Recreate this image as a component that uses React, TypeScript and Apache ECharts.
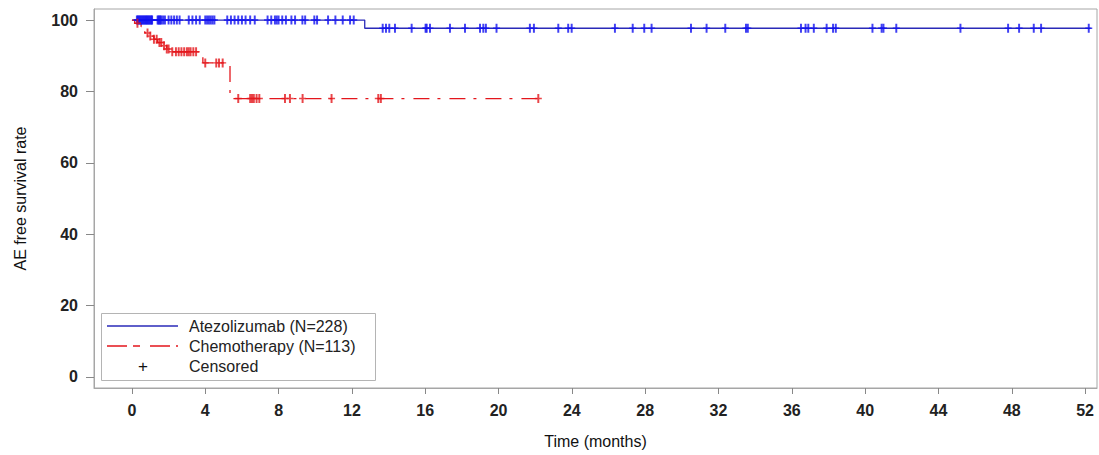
import React, { useEffect, useRef } from "react";
import * as echarts from "echarts";

// Kaplan-Meier step curves (time in months, survival in %)
const atezoTimes = [0, 12.7, 52.3];
const atezoSurv = [100, 97.7, 97.7];
const chemoTimes = [0, 0.15, 0.5, 0.6, 0.7, 0.95, 1.2, 1.4, 1.65, 1.9, 2.15, 3.87, 5.35, 22.3];
const chemoSurv = [100, 99.1, 98.2, 97.3, 96.4, 95.5, 94.6, 93.7, 92.8, 91.9, 91.1, 88.0, 78.0, 78.0];

// Censoring times
const atezoCensor = [
  0.27, 0.32, 0.37, 0.42, 0.47, 0.52, 0.57, 0.62, 0.67, 0.72, 0.77, 0.82, 0.87, 0.92, 0.97, 1.02, 1.07, 1.1,
  1.4, 1.45, 1.5, 1.55, 1.6, 1.7, 1.8,
  2.0, 2.15, 2.3, 2.45, 2.6,
  3.1, 3.3, 3.5, 3.7,
  4.0, 4.1, 4.2, 4.3, 4.4, 4.5,
  5.2, 5.4, 5.6, 5.8, 6.0, 6.2, 6.45, 6.7,
  7.4, 7.6, 7.8, 7.9, 8.0, 8.2, 8.4, 8.7, 8.9,
  9.3, 9.45, 9.95, 10.1, 10.7, 11.1, 11.5, 11.9, 12.1,
  13.68, 13.86, 14.04, 14.35, 15.26, 16.02, 16.08, 16.26, 17.35, 18.17, 18.99, 19.17, 19.31, 19.89,
  21.71, 21.93, 23.26, 23.8, 23.99, 26.35, 27.32, 27.95, 28.35, 30.5, 31.35, 32.37,
  33.5, 33.6, 36.5, 36.75, 36.9, 37.2, 37.9, 38.25, 38.4, 40.4, 40.9, 41.0, 41.7, 45.2,
  47.8, 48.4, 49.2, 49.6, 52.2,
];
const chemoCensor = [
  0.3, 0.85, 1.0, 1.2, 1.35, 1.5, 1.6, 1.75, 1.9, 2.0, 2.2,
  2.4, 2.55, 2.7, 2.85, 3.0, 3.1, 3.2, 3.35, 3.5,
  4.0, 4.6, 4.75, 4.95,
  5.8, 6.45, 6.55, 6.65, 6.8, 6.95, 8.35, 8.62, 9.31, 10.89, 13.44, 13.58, 22.17,
];

const xTicks = [0, 4, 8, 12, 16, 20, 24, 28, 32, 36, 40, 44, 48, 52];
const yTicks = [0, 20, 40, 60, 80, 100];

const seriesNames = ["Atezolizumab (N=228)", "Chemotherapy (N=113)", "Censored"];

function survAt(times: number[], surv: number[], t: number) {
  let v = surv[0];
  for (let i = 0; i < times.length; i++) {
    if (times[i] <= t) v = surv[i];
  }
  return v;
}

const FONT = "'Liberation Sans', Arial, sans-serif";
const BLUE_LINE = "#2a2ab8";
const BLUE_MARK = "#1010f0";
const RED = "#e3161c";
const PLUS = "path://M3.6,0H6.4V4.2H10V5.8H6.4V10H3.6V5.8H0V4.2H3.6Z";

export default function App() {
  const ref = useRef<HTMLDivElement>(null);
  useEffect(() => {
    if (!ref.current) return;
    const chart = echarts.init(ref.current, null, { renderer: "svg" });
    const option: any = {
      animation: false,
      backgroundColor: "#ffffff",
      grid: {
        left: 94,
        right: 2,
        top: 9,
        bottom: 67,
        show: true,
        borderColor: "#a6a6a6",
        borderWidth: 1,
        backgroundColor: "transparent",
      },
      xAxis: {
        type: "value",
        min: -2.07,
        max: 52.65,
        name: "Time (months)",
        nameLocation: "middle",
        nameGap: 45,
        nameTextStyle: { fontFamily: FONT, fontSize: 16, color: "#111" },
        axisLine: { show: true, onZero: false, lineStyle: { color: "#a6a6a6" } },
        axisTick: { show: true, length: 6, customValues: xTicks, lineStyle: { color: "#888" } },
        axisLabel: {
          customValues: xTicks,
          margin: 14,
          fontFamily: FONT,
          fontSize: 16,
          fontWeight: "bold",
          color: "#222",
        },
        splitLine: { show: false },
      },
      yAxis: {
        type: "value",
        min: -3.1,
        max: 103.1,
        name: "AE free survival rate",
        nameLocation: "middle",
        nameGap: 66,
        nameTextStyle: { fontFamily: FONT, fontSize: 16, color: "#111" },
        axisLine: { show: true, onZero: false, lineStyle: { color: "#a6a6a6" } },
        axisTick: { show: true, length: 8, customValues: yTicks, lineStyle: { color: "#888" } },
        axisLabel: {
          customValues: yTicks,
          margin: 16,
          fontFamily: FONT,
          fontSize: 16,
          fontWeight: "bold",
          color: "#222",
        },
        splitLine: { show: false },
      },
      series: [
        {
          name: seriesNames[0],
          type: "line",
          step: "end",
          symbol: "none",
          data: atezoTimes.map((t, i) => [t, atezoSurv[i]]),
          lineStyle: { color: BLUE_LINE, width: 1.3 },
          z: 2,
        },
        {
          name: seriesNames[1],
          type: "line",
          step: "end",
          symbol: "none",
          data: chemoTimes.map((t, i) => [t, chemoSurv[i]]),
          lineStyle: { color: RED, width: 1.3, type: [16, 8, 3, 9] },
          z: 2,
        },
        {
          name: seriesNames[2] + " A",
          type: "scatter",
          symbol: PLUS,
          symbolSize: [7, 9],
          data: atezoCensor.map((t) => [t, survAt(atezoTimes, atezoSurv, t)]),
          itemStyle: { color: BLUE_MARK },
          z: 3,
        },
        {
          name: seriesNames[2] + " C",
          type: "scatter",
          symbol: PLUS,
          symbolSize: [7, 9],
          data: chemoCensor.map((t) => [t, survAt(chemoTimes, chemoSurv, t)]),
          itemStyle: { color: RED },
          z: 3,
        },
      ],
      graphic: [
        {
          type: "rect",
          shape: { x: 101.5, y: 313.5, width: 274, height: 67 },
          style: { fill: "#fff", stroke: "#b4b4b4", lineWidth: 1 },
          z: 10,
        },
        {
          type: "line",
          shape: { x1: 107, y1: 326, x2: 178, y2: 326 },
          style: { stroke: BLUE_LINE, lineWidth: 1.3 },
          z: 11,
        },
        {
          type: "line",
          shape: { x1: 107, y1: 346, x2: 178, y2: 346 },
          style: { stroke: RED, lineWidth: 1.3, lineDash: [20, 6, 7, 10] },
          z: 11,
        },
        {
          type: "text",
          x: 143,
          y: 366,
          style: { text: "+", fill: "#111", font: `17px ${FONT}`, align: "center", verticalAlign: "middle" },
          z: 11,
        },
        {
          type: "text",
          x: 189,
          y: 326,
          style: { text: seriesNames[0], fill: "#222", font: `16px ${FONT}`, verticalAlign: "middle" },
          z: 11,
        },
        {
          type: "text",
          x: 189,
          y: 346,
          style: { text: seriesNames[1], fill: "#222", font: `16px ${FONT}`, verticalAlign: "middle" },
          z: 11,
        },
        {
          type: "text",
          x: 189,
          y: 366,
          style: { text: seriesNames[2], fill: "#222", font: `16px ${FONT}`, verticalAlign: "middle" },
          z: 11,
        },
      ],
    };
    chart.setOption(option);
    return () => chart.dispose();
  }, []);
  return (
    <div
      ref={ref}
      style={{ position: "absolute", left: 0, top: 0, width: 1099, height: 455, background: "#fff" }}
    />
  );
}
